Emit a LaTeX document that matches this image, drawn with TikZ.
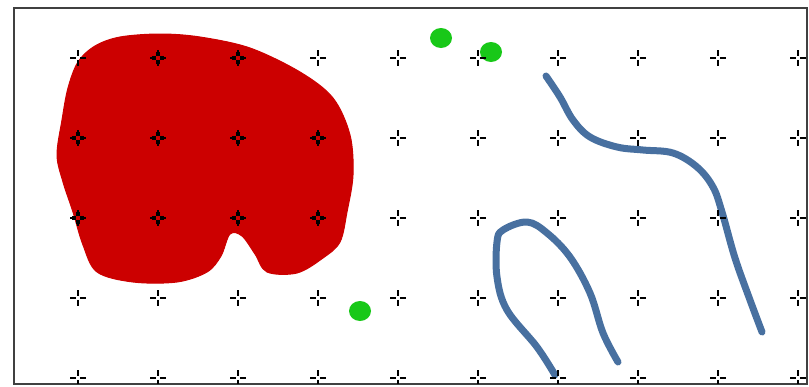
\documentclass[tikz,border=0pt]{standalone}
\usepackage{xcolor}
\usepackage{tikz}

\definecolor{blobred}{RGB}{204,0,0}
\definecolor{strokeblue}{RGB}{72,112,160}
\definecolor{dotgreen}{RGB}{24,200,24}
\definecolor{framegray}{RGB}{64,64,64}

\begin{document}
\begin{tikzpicture}[x=1pt, y=-1pt,
    blob/.style={fill=blobred, draw=blobred, line width=1pt},
    stroke/.style={draw=strokeblue, line width=7pt, line cap=round, line join=round},
    dot/.style={fill=dotgreen},
    gridmark/.style={draw=black, line width=1.4pt},
    gridmarkin/.style={draw=black, line width=3.2pt}
]
    \useasboundingbox (0,0) rectangle (809,386);

    % Frame
    \draw[framegray, line width=2pt] (14,8) rectangle (807,384);
    \clip (15,9) rectangle (806,383);

    % Red region
    \path[blob] plot[smooth cycle, tension=0.55] coordinates {
        (95,46) (120,37) (160,34) (200,37) (250,48) (300,72) (333,98)
        (350,135) (353,175) (347,212) (340,242) (323,258) (297,273)
        (267,272) (255,254) (242,236) (230,234) (221,256) (207,272)
        (177,282) (133,282) (97,272) (83,245) (73,212) (63,182)
        (57,155) (62,120) (68,88) (78,62)};

    % Blue strokes
    \draw[stroke] plot[smooth, tension=0.6] coordinates {
        (546,76) (560,97) (573,120) (590,137) (617,147) (643,150)
        (673,153) (697,167) (713,187) (722,212) (735,258) (750,300) (762,332)};
    \draw[stroke] plot[smooth, tension=0.6] coordinates {
        (555,375) (537,347) (507,310) (497,277) (497,242) (503,230)
        (527,222) (547,233) (570,257) (590,293) (603,333) (618,362)};

    % Green dots
    \fill[dot] (441,38) ellipse (11 and 10);
    \fill[dot] (491,52) ellipse (11 and 10);
    \fill[dot] (360,311) ellipse (11 and 10);

    % Grid marks
    \foreach \gx in {78,158,...,798}
        \foreach \gy in {58,138,...,378}
            \draw[gridmark] (\gx-8,\gy) -- (\gx-2,\gy) (\gx+2,\gy) -- (\gx+8,\gy)
                (\gx,\gy-8) -- (\gx,\gy-2) (\gx,\gy+2) -- (\gx,\gy+8);

    % Grid marks inside the red region
    \foreach \gx/\gy in {158/58,238/58,78/138,158/138,238/138,318/138,
                         78/218,158/218,238/218,318/218}
        \draw[gridmarkin] (\gx-6,\gy) -- (\gx-2,\gy) (\gx+2,\gy) -- (\gx+6,\gy)
            (\gx,\gy-6) -- (\gx,\gy-2) (\gx,\gy+2) -- (\gx,\gy+6);
\end{tikzpicture}
\end{document}
